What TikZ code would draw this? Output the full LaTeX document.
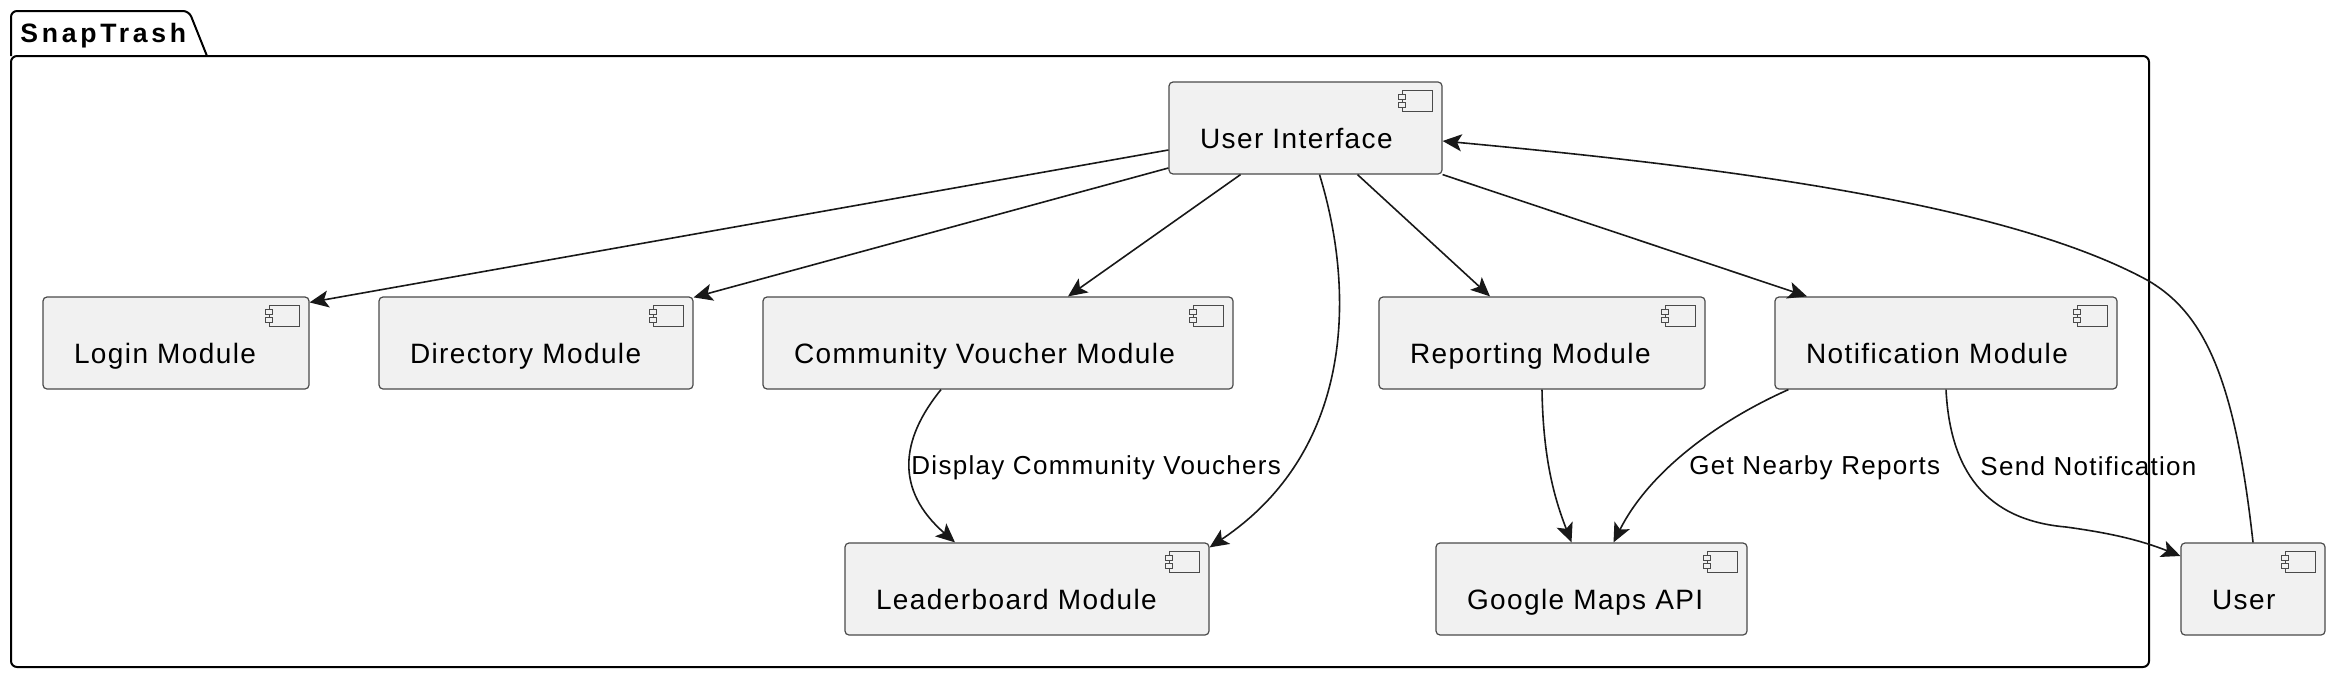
\documentclass[tikz,border=0pt]{standalone}
\usepackage{fontspec}
\setmainfont{Liberation Sans}
\usetikzlibrary{arrows.meta,calc}
\definecolor{compfill}{HTML}{F1F1F1}
\definecolor{compdraw}{HTML}{4A4A4A}
\definecolor{edgecol}{HTML}{181818}
\newcommand{\compfont}{\fontsize{14pt}{16pt}\selectfont\addfontfeature{LetterSpace=5}}
\newcommand{\lblfont}{\fontsize{13pt}{15pt}\selectfont\addfontfeature{LetterSpace=5}}
\newcommand{\pkgfont}{\fontsize{13.3pt}{15pt}\selectfont\bfseries\addfontfeature{LetterSpace=14}}
\newcommand{\comptext}[2]{\hspace*{15.5pt}\makebox[#1][l]{#2}\hspace*{25.5pt}}
\tikzset{
  comp/.style={draw=compdraw, line width=0.6pt, fill=compfill, rounded corners=2pt,
    inner xsep=0pt, inner ysep=0pt, text height=33pt, text depth=13pt,
    font=\compfont, minimum height=46pt},
  conn/.style={draw=edgecol, line width=0.8pt,
    -{Stealth[length=9.5pt,width=8.5pt,inset=2.2pt]}},
  lbl/.style={font=\lblfont, inner sep=0pt, anchor=base west},
  icon/.style={draw=compdraw, line width=0.5pt, fill=compfill},
  pkg/.style={draw=black, line width=1pt, rounded corners=3pt}
}
\begin{document}
\begin{tikzpicture}[x=0.5pt,y=-0.5pt]
\useasboundingbox (0,0) rectangle (2338,680);
% package
\draw[pkg] (11,56) rectangle (2149,667);
\draw[pkg] (11,56) -- (11,11) -- (189,11) -- (207,56);
\node[font=\pkgfont, inner sep=0pt, anchor=base west] (pkgname) at (20,42) {SnapTrash};
% components
\node[comp] (ui)    at (1305.5,128) {\comptext{95.5pt}{User Interface}};
\node[comp] (login) at (176,343)    {\comptext{92pt}{Login Module}};
\node[comp] (dir)   at (536,343)    {\comptext{116pt}{Directory Module}};
\node[comp] (cv)    at (998,343)    {\comptext{194pt}{Community Voucher Module}};
\node[comp] (rep)   at (1542,343)   {\comptext{122pt}{Reporting Module}};
\node[comp] (notif) at (1946,343)   {\comptext{130pt}{Notification Module}};
\node[comp] (lb)    at (1027,589)   {\comptext{141pt}{Leaderboard Module}};
\node[comp] (gm)    at (1591.5,589) {\comptext{114.5pt}{Google Maps API}};
\node[comp] (user)  at (2253,589)   {\comptext{31pt}{User}};
% component icons
\foreach \n in {ui,login,dir,cv,rep,notif,lb,gm,user}{
  \draw[icon] ($(\n.north east)+(-40,9)$) rectangle ($(\n.north east)+(-10,30)$);
  \draw[icon] ($(\n.north east)+(-44,13)$) rectangle ($(\n.north east)+(-37,18)$);
  \draw[icon] ($(\n.north east)+(-44,21)$) rectangle ($(\n.north east)+(-37,26)$);
}
% connectors
\draw[conn] ($(ui.west)+(0,22)$) -- ($(login.north east)+(0,6)$);
\draw[conn] ($(ui.west)+(0,40)$) -- ($(dir.north east)+(0,1)$);
\draw[conn] ($(ui.south)+(-65,0)$) -- ($(cv.north)+(70,0)$);
\draw[conn] ($(ui.south)+(14,0)$) .. controls (1355,290) and (1355,450) .. ($(lb.north east)+(0,5)$);
\draw[conn] ($(ui.south)+(52,0)$) -- ($(rep.north)+(-52,0)$);
\draw[conn] (ui.south east) -- ($(notif.north)+(-139,0)$);
\draw[conn] (user.north) .. controls (2235,380) and (2205,313) .. (2147,280)
  .. controls (2000,200) and (1700,165) .. ($(ui.east)+(0,13)$);
\draw[conn] ($(cv.south)+(-57,0)$) .. controls (900,440) and (895,490) .. ($(lb.north)+(-72,0)$);
\draw[conn] (rep.south) .. controls (1543,460) and (1555,500) .. ($(gm.north)+(-20,0)$);
\draw[conn] ($(notif.south west)+(14,0)$) .. controls (1720,420) and (1650,470) .. ($(gm.north)+(22,0)$);
\draw[conn] (notif.south) .. controls (1950,470) and (1985,520) .. (2066,527)
  .. controls (2110,533) and (2140,540) .. ($(user.west)+(0,-33)$);
% labels
\node[lbl] (l1) at (911,474)  {Display Community Vouchers};
\node[lbl] (l2) at (1689,474) {Get Nearby Reports};
\node[lbl] (l3) at (1980,475) {Send Notification};
\end{tikzpicture}
\end{document}
